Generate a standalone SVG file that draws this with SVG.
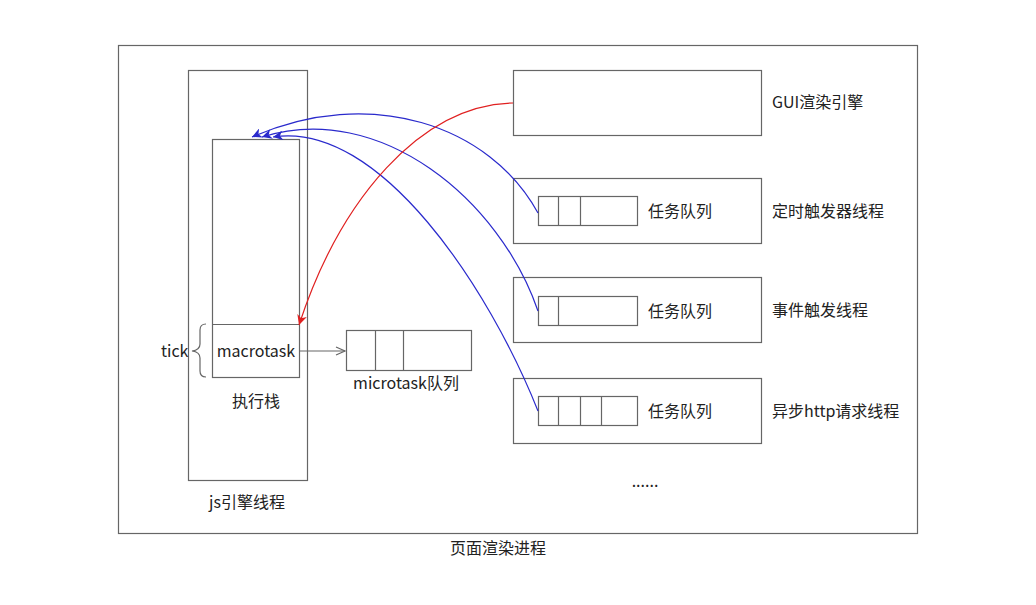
<svg xmlns="http://www.w3.org/2000/svg" width="1036" height="605" viewBox="0 0 1036 605">
<style>
.b{fill:#fff;stroke:#666;stroke-width:1.2}
.l{fill:none;stroke:#666;stroke-width:1.2}
text{font-family:"Microsoft YaHei","Noto Sans CJK SC","Liberation Sans",sans-serif;font-size:16px;fill:#222}
.blue{fill:none;stroke:#2a2acc;stroke-width:1.2}
.red{fill:none;stroke:#e02020;stroke-width:1.2}
</style>
<defs>
<marker id="ab" markerWidth="12" markerHeight="10" refX="10" refY="5" orient="auto" markerUnits="userSpaceOnUse"><path d="M0,0 L10,5 L0,10 L3,5 Z" fill="#2a2acc"/></marker>
<marker id="ar" markerWidth="12" markerHeight="10" refX="10" refY="5" orient="auto" markerUnits="userSpaceOnUse"><path d="M0,0 L10,5 L0,10 L3,5 Z" fill="#e02020"/></marker>
<marker id="ag" markerWidth="12" markerHeight="10" refX="10" refY="5" orient="auto" markerUnits="userSpaceOnUse"><path d="M1,1 L10,5 L1,9" fill="none" stroke="#666" stroke-width="1.2"/></marker>
</defs>
<rect width="1036" height="605" fill="#fff"/>
<g id="process">
<rect class="b" x="118.5" y="45.5" width="799" height="488"/>
<text x="498" y="554" text-anchor="middle">页面渲染进程</text>
</g>
<g id="jsengine">
<rect class="b" x="188.5" y="70.5" width="119" height="410"/>
<text x="247" y="508" text-anchor="middle">js引擎线程</text>
</g>
<g id="stack">
<rect class="b" x="212.5" y="139.5" width="87" height="238"/>
<line class="l" x1="212.5" y1="324.5" x2="299.5" y2="324.5"/>
<text x="256" y="357" text-anchor="middle">macrotask</text>
<text x="256" y="407" text-anchor="middle">执行栈</text>
</g>
<g id="tick">
<path class="l" d="M206,324 Q200,324 200,330 L200,344 Q200,350 192,351 Q200,352 200,358 L200,371 Q200,377 206,377" stroke="#999"/>
<text x="161" y="357">tick</text>
</g>
<g id="microtask">
<rect class="b" x="346.5" y="330.5" width="125" height="40"/>
<line class="l" x1="375.5" y1="330.5" x2="375.5" y2="370.5"/>
<line class="l" x1="403.5" y1="330.5" x2="403.5" y2="370.5"/>
<text x="406" y="389" text-anchor="middle">microtask队列</text>
</g>
<g id="gui">
<rect class="b" x="513.5" y="70.5" width="248" height="65"/>
<text x="772" y="108">GUI渲染引擎</text>
</g>
<g id="timer">
<rect class="b" x="513.5" y="178.5" width="248" height="65"/>
<rect class="b" x="538.5" y="196.5" width="99" height="29"/>
<line class="l" x1="558.5" y1="196.5" x2="558.5" y2="225.5"/>
<line class="l" x1="580.5" y1="196.5" x2="580.5" y2="225.5"/>
<text x="648" y="217">任务队列</text>
<text x="772" y="217">定时触发器线程</text>
</g>
<g id="event">
<rect class="b" x="513.5" y="277.5" width="248" height="65"/>
<rect class="b" x="538.5" y="296.5" width="99" height="29"/>
<line class="l" x1="558.5" y1="296.5" x2="558.5" y2="325.5"/>
<text x="648" y="317">任务队列</text>
<text x="772" y="316">事件触发线程</text>
</g>
<g id="http">
<rect class="b" x="513.5" y="378.5" width="248" height="65"/>
<rect class="b" x="538.5" y="396.5" width="99" height="29"/>
<line class="l" x1="558.5" y1="396.5" x2="558.5" y2="425.5"/>
<line class="l" x1="580.5" y1="396.5" x2="580.5" y2="425.5"/>
<line class="l" x1="601.5" y1="396.5" x2="601.5" y2="425.5"/>
<text x="648" y="417">任务队列</text>
<text x="772" y="417">异步http请求线程</text>
</g>
<g id="more">
<text x="645" y="487" text-anchor="middle">......</text>
</g>
<g id="connectors">
<path class="blue" d="M538,213 C490,125 370,85 252,137" marker-end="url(#ab)"/>
<path class="blue" d="M538,311 C500,200 380,100 262,137" marker-end="url(#ab)"/>
<path class="blue" d="M538,411 C490,290 380,120 273,137" marker-end="url(#ab)"/>
<path class="red" d="M513,103 C420,105 340,200 299,325" marker-end="url(#ar)"/>
<line x1="299.5" y1="351" x2="345" y2="351" stroke="#666" stroke-width="1.2" marker-end="url(#ag)"/>
</g>
</svg>
